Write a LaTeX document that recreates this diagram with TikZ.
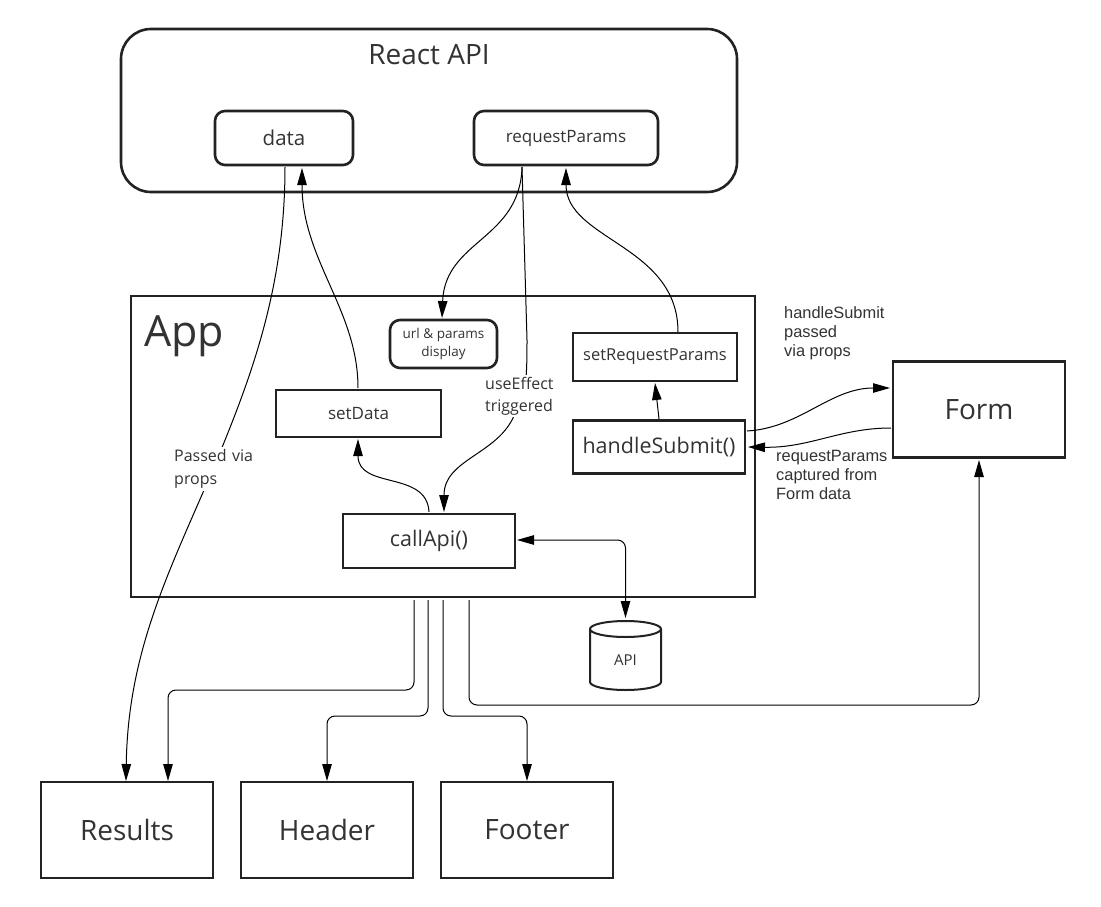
\documentclass[tikz,border=0pt]{standalone}
\usepackage{fontspec}
\setmainfont{Open Sans}
\newfontfamily\arialf{Liberation Sans}
\usetikzlibrary{arrows.meta,shapes.geometric}
\definecolor{ln}{HTML}{222222}
\definecolor{tx}{HTML}{333333}
\tikzset{
 x=1pt,y=-1pt,
 boxn/.style={draw=ln,line width=2.6pt,fill=white,inner sep=0pt,text=tx,align=center,anchor=center},
 rbox/.style={boxn,rounded corners=10pt},
 lab/.style={text=tx,align=left,inner sep=2pt,fill=white},
 conn/.style={draw=black,line width=1pt,-{Stealth[length=17pt,width=9.5pt,inset=0pt]}},
 orth/.style={conn,rounded corners=8pt},
 fs/.style={font=\fontsize{#1}{\dimexpr#1pt*12/10\relax}\selectfont},
}
\begin{document}
\begin{tikzpicture}
\useasboundingbox (0,0) rectangle (1101,907);
\fill[white] (0,0) rectangle (1101,907);
\node[rbox,rounded corners=30pt,minimum width=616pt,minimum height=163pt] (react) at (429,110.5) {};
\node[text=tx,fs=28,inner sep=0pt] (reacttitle) at (429,55) {React API};
\node[rbox,fs=20.5,minimum width=138pt,minimum height=54pt] (data) at (284,138) {data};
\node[rbox,fs=17,minimum width=184pt,minimum height=54pt] (rp) at (566,138) {requestParams};
\node[boxn,line width=2.8pt,minimum width=624pt,minimum height=301pt] (app) at (443,446.5) {};
\node[text=tx,fs=43,inner sep=0pt] (apptitle) at (184,336) {App};
\node[rbox,fs=13.5,minimum width=107pt,minimum height=48pt] (url) at (443.5,344) {url \& params\\[1pt]display};
\node[boxn,fs=17,minimum width=165pt,minimum height=47pt] (setdata) at (358.5,413.5) {setData};
\node[boxn,fs=16.5,minimum width=164pt,minimum height=48pt] (setrp) at (655,357) {setRequestParams};
\node[boxn,fs=21.5,minimum width=172pt,minimum height=53pt] (hs) at (659,447) {handleSubmit()};
\node[boxn,fs=21.5,minimum width=172pt,minimum height=54pt] (callapi) at (429,541) {callApi()};
\node[boxn,fs=28,minimum width=172pt,minimum height=96pt] (form) at (979,409.5) {Form};
\node[boxn,fs=28,minimum width=172pt,minimum height=96pt] (results) at (127,830) {Results};
\node[boxn,fs=28,minimum width=172pt,minimum height=96pt] (header) at (327,830) {Header};
\node[boxn,fs=28,minimum width=172pt,minimum height=96pt] (footer) at (527,830) {Footer};
% cylinder
\coordinate (apitop) at (625.5,618);
\draw[ln,line width=2pt,fill=white] (590,629) arc[start angle=180,end angle=360,x radius=35.5pt,y radius=8pt]
  arc[start angle=0,end angle=180,x radius=35.5pt,y radius=8pt] -- (590,682)
  arc[start angle=180,end angle=360,x radius=35.5pt,y radius=8pt] -- (661,629);
\node[text=tx,fs=15,inner sep=0pt] (api) at (625.5,660) {API};
% curved connectors
\coordinate (d0) at (285,167);
\coordinate (lb1) at (214,467);
\draw[conn] (d0) .. controls (285,290) and (250,380) .. (lb1) .. controls (170,570) and (128,650) .. (126,781);
\draw[conn] (358,388) .. controls (358,310) and (302,260) .. (302,168);
\draw[conn] (522,167) .. controls (520,240) and (445,240) .. (442,318);
\draw[conn] (522,167) -- (527,340) .. controls (527,390) and (525,395) .. (513,418) .. controls (495,455) and (444,460) .. (444,512);
\draw[conn] (678,332) .. controls (678,245) and (566,240) .. (566,168);
\draw[conn] (659,419) -- (655,383);
\draw[conn] (747,431) .. controls (800,428) and (830,388) .. (890,388);
\draw[conn] (891,428) .. controls (840,428) and (810,448) .. (748,447);
\draw[conn] (429,512) .. controls (427,470) and (358,490) .. (358,439);
% orthogonal connectors
\draw[orth,{Stealth[length=17pt,width=9.5pt,inset=0pt]}-{Stealth[length=17pt,width=9.5pt,inset=0pt]}] (517,540) -| (apitop);
\draw[orth] (414,600) -- (414,690) -- (168,690) -- (168,781);
\draw[orth] (428,600) -- (428,716) -- (327,716) -- (327,781);
\draw[orth] (443,600) -- (443,716) -- (527,716) -- (527,781);
\draw[orth] (469,600) -- (469,705) -- (979,705) -- (979,460);
% labels
\node[lab,fs=16,anchor=west,text width=82pt] (passed) at (172,469) {Passed via\\[4pt]props};
\node[lab,fs=16,anchor=west] (ue) at (483,396) {useEffect\\[3pt]triggered};
\node[text=tx,inner sep=0pt,anchor=north west,align=left,font=\arialf\fontsize{16.4}{19}\selectfont] (hsl) at (784,306.5) {handleSubmit\\passed\\via props};
\node[text=tx,inner sep=0pt,anchor=north west,align=left,font=\arialf\fontsize{16.4}{19}\selectfont] (rpl) at (776,450.5) {requestParams\\captured from\\Form data};
\end{tikzpicture}
\end{document}
